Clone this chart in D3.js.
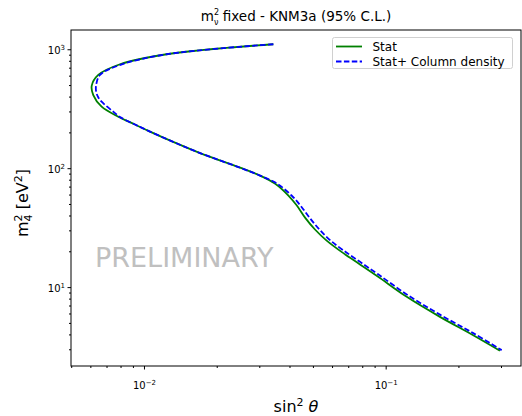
<!DOCTYPE html>
<html>
<head>
<meta charset="utf-8">
<script src="https://cdn.jsdelivr.net/npm/d3@7"></script>
<style>
body{margin:0;background:#fff;}
text{font-family:"DejaVu Sans",sans-serif;}
</style>
</head>
<body>
<svg id="c" width="522" height="416"></svg>
<script>
// Stat contour (sin^2 theta, m4^2)
const statX = [0.0343,0.01241,0.00796,0.00647,0.00608,0.00617,0.00668,0.00783,0.00918,0.01059,0.01343,0.01706,0.02496,0.0302,0.0348,0.0396,0.0429,0.0464,0.0510,0.0570,0.0668,0.0783,0.0931,0.1222,0.1677,0.2302,0.297];
const statY = [1102,908,748,608,494,412,329,271,233,203,164,134,101,86.7,74.3,58.9,48.5,38.4,30.5,24.6,19.3,15.5,12.2,8.28,5.62,3.94,2.92];
// Stat + Column density contour
const colX = [0.0343,0.01241,0.0080,0.00658,0.00634,0.00634,0.00646,0.00668,0.00746,0.00796,0.00918,0.01059,0.01343,0.01706,0.02496,0.0302,0.0355,0.0408,0.0444,0.0484,0.0532,0.0592,0.0668,0.0783,0.0931,0.1222,0.1677,0.2302,0.302];
const colY = [1102,908,740,608,500,440,397,362,299,269,233,203,164,134,101,86.7,74.3,58.9,48.5,38.4,30.5,24.6,20.4,16.3,12.8,8.68,5.87,4.10,2.95];
const xMajor = [0.01, 0.1];
const xMajorExp = ["\u22122", "\u22121"];
const yMajor = [10, 100, 1000];
const yMajorExp = ["1", "2", "3"];
const legendLabels = ["Stat", "Stat+ Column density"];

const svg = d3.select("#c");
const L = 71, R = 521, T = 30, B = 366;
const x = d3.scaleLog().domain([0.00499, 0.363]).range([L, R]);
const y = d3.scaleLog().domain([2.17, 1452]).range([B, T]);

const xMinor = [];
[0.001, 0.01, 0.1].forEach(d => { for (let k = 2; k <= 9; k++) { const v = d * k; if (v >= 0.00499 && v <= 0.363) xMinor.push(v); } });
const yMinor = [];
[1, 10, 100, 1000].forEach(d => { for (let k = 2; k <= 9; k++) { const v = d * k; if (v >= 2.17 && v <= 1452) yMinor.push(v); } });

// minor ticks
svg.append("g").attr("transform", `translate(0,${B})`)
  .call(d3.axisBottom(x).tickValues(xMinor).tickSize(2).tickFormat(""))
  .call(g => g.select(".domain").remove());
svg.append("g").attr("transform", `translate(${L},0)`)
  .call(d3.axisLeft(y).tickValues(yMinor).tickSize(2).tickFormat(""))
  .call(g => g.select(".domain").remove());

// major ticks
const gx = svg.append("g").attr("transform", `translate(0,${B})`)
  .call(d3.axisBottom(x).tickValues(xMajor).tickSize(3.5).tickFormat(""));
gx.select(".domain").remove();
gx.selectAll(".tick").each(function(d, i) {
  const t = d3.select(this).append("text").attr("fill", "#000").attr("y", 22.5).attr("text-anchor", "middle").attr("font-size", 10);
  t.append("tspan").text("10");
  t.append("tspan").attr("dy", -4).attr("font-size", 7).text(xMajorExp[i]);
});
const gy = svg.append("g").attr("transform", `translate(${L},0)`)
  .call(d3.axisLeft(y).tickValues(yMajor).tickSize(3.5).tickFormat(""));
gy.select(".domain").remove();
gy.selectAll(".tick").each(function(d, i) {
  const t = d3.select(this).append("text").attr("fill", "#000").attr("x", -6).attr("y", 4.5).attr("text-anchor", "end").attr("font-size", 10);
  t.append("tspan").text("10");
  t.append("tspan").attr("dy", -4).attr("font-size", 7).text(yMajorExp[i]);
});

// watermark
svg.append("text").attr("x", 95).attr("y", 266.5).attr("font-size", 27).attr("fill", "#c0c0c0").text("PRELIMINARY");

const line = d3.line().x(d => x(d[0])).y(d => y(d[1])).curve(d3.curveCatmullRom.alpha(0.5));
svg.append("clipPath").attr("id", "clp").append("rect").attr("x", L).attr("y", T).attr("width", R - L).attr("height", B - T);
svg.append("path").attr("clip-path", "url(#clp)").datum(statX.map((v, i) => [v, statY[i]]))
  .attr("d", line).attr("fill", "none").attr("stroke", "#008000").attr("stroke-width", 1.8);
svg.append("path").attr("clip-path", "url(#clp)").datum(colX.map((v, i) => [v, colY[i]]))
  .attr("d", line).attr("fill", "none").attr("stroke", "#0000ff").attr("stroke-width", 1.8).attr("stroke-dasharray", "5.5,2.4");

// frame
svg.append("rect").attr("x", L).attr("y", T).attr("width", R - L).attr("height", B - T).attr("fill", "none").attr("stroke", "#000").attr("stroke-width", 1);

// legend
const lg = svg.append("g");
lg.append("rect").attr("x", 332.5).attr("y", 37.5).attr("width", 180).attr("height", 31).attr("rx", 2).attr("fill", "#fff").attr("fill-opacity", 0.8).attr("stroke", "#d0d0d0");
const lstyles = [{c: "#008000", d: null}, {c: "#0000ff", d: "5.5,2.4"}];
legendLabels.forEach((lab, i) => {
  const yy = 46.5 + i * 15;
  const ln = lg.append("line").attr("x1", 336).attr("x2", 362).attr("y1", yy).attr("y2", yy).attr("stroke", lstyles[i].c).attr("stroke-width", 1.8);
  if (lstyles[i].d) ln.attr("stroke-dasharray", lstyles[i].d);
  lg.append("text").attr("x", 372.5).attr("y", yy + 4).attr("font-size", 12).text(lab);
});

// title
const tt = svg.append("text").attr("x", 296).attr("y", 21).attr("text-anchor", "middle").attr("font-size", 13.5);
tt.append("tspan").text("m");
tt.append("tspan").attr("dy", -6).attr("font-size", 8).text("2");
tt.append("tspan").attr("dx", -5).attr("dy", 10).attr("font-size", 8).text("\u03bd");
tt.append("tspan").attr("dy", -4).text(" fixed - KNM3a (95% C.L.)");

// x label
const xl = svg.append("text").attr("x", 296).attr("y", 412).attr("text-anchor", "middle").attr("font-size", 16);
xl.append("tspan").text("sin");
xl.append("tspan").attr("dy", -6).attr("font-size", 11).text("2");
xl.append("tspan").attr("dy", 6).attr("font-style", "italic").text(" \u03b8");

// y label
const yl = svg.append("text").attr("transform", "translate(28,203) rotate(-90)").attr("text-anchor", "middle").attr("font-size", 16);
yl.append("tspan").text("m");
yl.append("tspan").attr("dy", -6).attr("font-size", 11).text("2");
yl.append("tspan").attr("dx", -7).attr("dy", 10).attr("font-size", 11).text("4");
yl.append("tspan").attr("dy", -4).text(" [eV");
yl.append("tspan").attr("dy", -6).attr("font-size", 11).text("2");
yl.append("tspan").attr("dy", 6).text("]");
</script>
</body>
</html>
